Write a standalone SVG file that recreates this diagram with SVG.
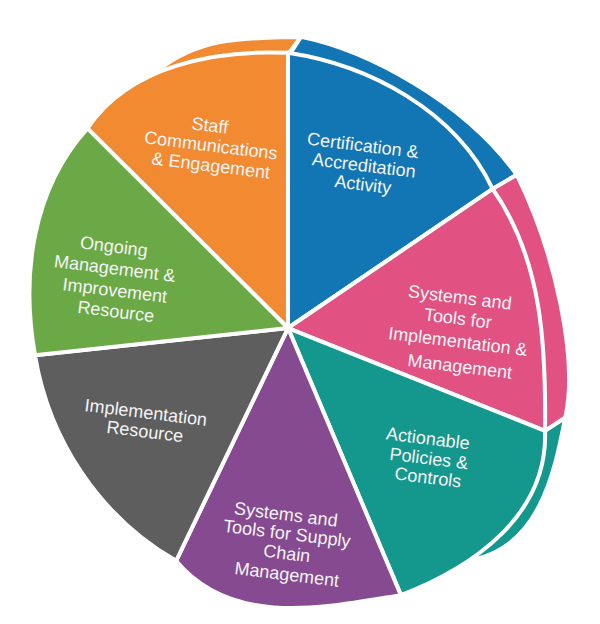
<svg xmlns="http://www.w3.org/2000/svg" width="600" height="624" viewBox="0 0 600 624">
<style>
.s{stroke:#FFFFFF;stroke-width:4;stroke-linejoin:round}
.t{font-family:"Liberation Sans",Arial,sans-serif;font-size:18px;fill:#F4F4F4;text-anchor:middle}
</style>
<rect width="600" height="624" fill="#FFFFFF"/>
<g id="bands" transform="matrix(1.008 0 0 1.008 -2.3 -2.62)">
<path class="s" fill="#F28A32" d="M161,71 C205,37 252,41 301,39 L290,54 L200,80 Z"/>
<path class="s" fill="#1276B4" d="M301,39 C365,52 462,102 515,176 L491,190 L400,200 L290,56 Z"/>
<path class="s" fill="#E15182" d="M515,176 C554,255 576,361 563,417 L543,430 L500,330 L491,190 Z"/>
<path class="s" fill="#14978D" d="M563,417 C552,475 536,545 471,558 L480,520 L543,430 Z"/>
</g>
<g id="node-staff">
<path class="s" fill="#F28A32" transform="matrix(1.008 0 0 1.008 -2.3 -2.62)" d="M288,328 L89,130 C131,67 217,52 288,55 Z"/>
<text class="t" transform="rotate(7 210 125)" x="210" y="131.5">Staff</text>
<text class="t" transform="rotate(7 211 145)" x="211" y="151.5">Communications</text>
<text class="t" transform="rotate(7 211 165)" x="211" y="171.5">&amp; Engagement</text>
</g>
<g id="node-cert">
<path class="s" fill="#1276B4" transform="matrix(1.008 0 0 1.008 -2.3 -2.62)" d="M288,328 L288,55 C368,67 454,112 491,190 Z"/>
<text class="t" transform="rotate(7 363 145)" x="363" y="151.5">Certification &amp;</text>
<text class="t" transform="rotate(7 364 165)" x="364" y="171.5">Accreditation</text>
<text class="t" transform="rotate(7 363 184)" x="363" y="190.5">Activity</text>
</g>
<g id="node-systems-impl">
<path class="s" fill="#E15182" transform="matrix(1.008 0 0 1.008 -2.3 -2.62)" d="M288,328 L491,190 C541,261 544,349 543,430 Z"/>
<text class="t" transform="rotate(7 460 297)" x="460" y="303.5">Systems and</text>
<text class="t" transform="rotate(7 458 318)" x="458" y="324.5">Tools for</text>
<text class="t" transform="rotate(7 458 341)" x="458" y="347.5">Implementation &amp;</text>
<text class="t" transform="rotate(7 460 366)" x="460" y="372.5">Management</text>
</g>
<g id="node-policies">
<path class="s" fill="#14978D" transform="matrix(1.008 0 0 1.008 -2.3 -2.62)" d="M288,328 L543,430 C546,515 470,566 400,593 Z"/>
<text class="t" transform="rotate(7 428 438)" x="428" y="444.5">Actionable</text>
<text class="t" transform="rotate(7 429 458)" x="429" y="464.5">Policies &amp;</text>
<text class="t" transform="rotate(7 428 477)" x="428" y="483.5">Controls</text>
</g>
<g id="node-supply">
<path class="s" fill="#854A90" transform="matrix(1.008 0 0 1.008 -2.3 -2.62)" d="M288,328 L400,593 C326,605 232,626 177,559 Z"/>
<text class="t" transform="rotate(7 286 514)" x="286" y="520.5">Systems and</text>
<text class="t" transform="rotate(7 287 533)" x="287" y="539.5">Tools for Supply</text>
<text class="t" transform="rotate(7 287 553)" x="287" y="559.5">Chain</text>
<text class="t" transform="rotate(7 287 574)" x="287" y="580.5">Management</text>
</g>
<g id="node-impl-resource">
<path class="s" fill="#5E5E5E" transform="matrix(1.008 0 0 1.008 -2.3 -2.62)" d="M288,328 L177,559 C102,516 51,440 37,355 Z"/>
<text class="t" transform="rotate(7 146 412)" x="146" y="418.5">Implementation</text>
<text class="t" transform="rotate(7 145 431)" x="145" y="437.5">Resource</text>
</g>
<g id="node-ongoing">
<path class="s" fill="#6BA946" transform="matrix(1.008 0 0 1.008 -2.3 -2.62)" d="M288,328 L37,355 C23,276 34,191 89,130 Z"/>
<text class="t" transform="rotate(7 114 246)" x="114" y="252.5">Ongoing</text>
<text class="t" transform="rotate(7 115 268)" x="115" y="274.5">Management &amp;</text>
<text class="t" transform="rotate(7 115 290)" x="115" y="296.5">Improvement</text>
<text class="t" transform="rotate(7 116 311)" x="116" y="317.5">Resource</text>
</g>
<g id="connectors"></g>
</svg>
